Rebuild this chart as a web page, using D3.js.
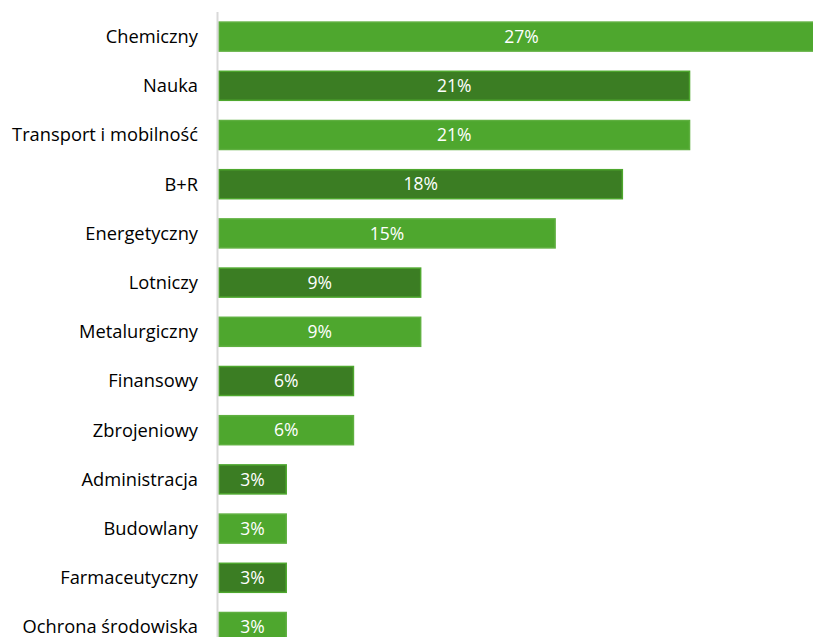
<!DOCTYPE html>
<html><head><meta charset="utf-8">
<script src="https://cdn.jsdelivr.net/npm/d3@7"></script>
<style>body{margin:0;background:#fff}svg{display:block}</style>
</head><body>
<script>
const categories = ["Chemiczny","Nauka","Transport i mobilność","B+R","Energetyczny","Lotniczy","Metalurgiczny","Finansowy","Zbrojeniowy","Administracja","Budowlany","Farmaceutyczny","Ochrona środowiska"];
const values = [27.27,21.21,21.21,18.18,15.15,9.09,9.09,6.06,6.06,3.03,3.03,3.03,3.03];
const valueLabels = ["27%","21%","21%","18%","15%","9%","9%","6%","6%","3%","3%","3%","3%"];
const shade = ["light","dark","light","dark","light","dark","light","dark","light","dark","light","dark","light"];

const W = 813, H = 637;
const svg = d3.select("body").append("svg").attr("width", W).attr("height", H);
const font = "'Open Sans', sans-serif";

const x = d3.scaleLinear().domain([0, 27.27]).range([219, 824]);
const y = d3.scaleBand().domain(categories).range([12, 12 + 13 * 49.2]).paddingInner(0.41).paddingOuter(0.205);

const data = categories.map((c, i) => ({c, v: values[i], l: valueLabels[i], s: shade[i]}));

svg.append("g").selectAll("rect").data(data).join("rect")
  .attr("x", x(0)).attr("y", d => y(d.c))
  .attr("width", d => x(d.v) - x(0)).attr("height", y.bandwidth())
  .attr("fill", d => d.s === "dark" ? "#3B7D23" : "#4EA72E")
  .attr("stroke", d => d.s === "dark" ? "#4EA72E" : "#5FB040")
  .attr("stroke-width", 1.5);

svg.append("line").attr("x1", 217.5).attr("x2", 217.5).attr("y1", 12).attr("y2", H)
  .attr("stroke", "#d9d9d9").attr("stroke-width", 2);

svg.append("g").selectAll("text").data(data).join("text")
  .attr("x", 198).attr("y", d => y(d.c) + y.bandwidth() / 2)
  .attr("dy", "0.35em").attr("text-anchor", "end")
  .attr("font-family", font).attr("font-size", 18.3).attr("fill", "#000")
  .text(d => d.c);

svg.append("g").selectAll("text").data(data).join("text")
  .attr("x", d => (x(0) + x(d.v)) / 2).attr("y", d => y(d.c) + y.bandwidth() / 2)
  .attr("dy", "0.35em").attr("text-anchor", "middle")
  .attr("font-family", font).attr("font-size", 17.5).attr("fill", "#fff")
  .text(d => d.l);
</script>
</body></html>
